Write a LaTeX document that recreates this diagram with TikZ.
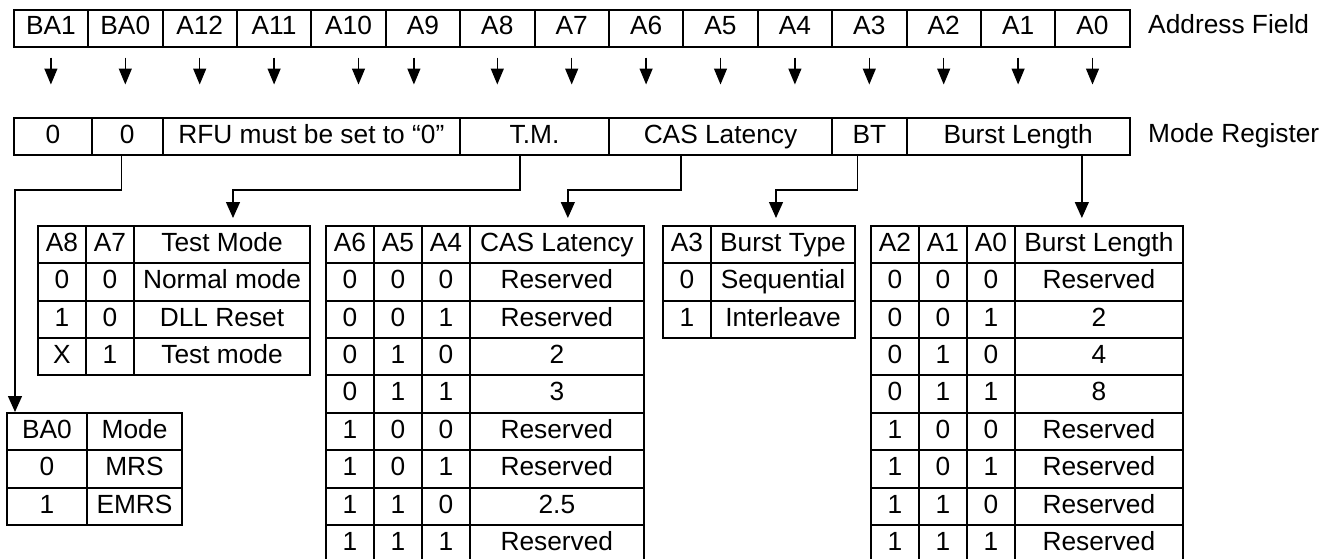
\documentclass[tikz,border=0pt]{standalone}
\usepackage{fontspec}
\setmainfont{Liberation Sans}
\usetikzlibrary{arrows.meta,calc}
\begin{document}
\begin{tikzpicture}[x=1pt,y=-1pt,
  txt/.style={font=\fontsize{26.3}{30}\selectfont, text height=19pt, text depth=5.5pt},
  cell/.style={txt, draw, line width=2pt, rectangle, inner sep=0pt, anchor=north west, minimum height=37.37pt},
  lbl/.style={txt, inner sep=0pt, anchor=west},
  conn/.style={line width=1.3pt, -{Triangle[width=14pt,length=16pt]}},
  tick/.style={line width=1.3pt, -{Triangle[width=13pt,length=16pt]}}]
\useasboundingbox (0,0) rectangle (1324,558);
\clip (0,0) rectangle (1324,558);

% Address field
\foreach \lab [count=\i from 0] in {BA1,BA0,A12,A11,A10,A9,A8,A7,A6,A5,A4,A3,A2,A1,A0}{
  \node[cell, minimum width=74.4pt, minimum height=37pt] (ad\i) at ({12.7+\i*74.4},8.5) {\lab};
}
\foreach \i/\dx in {0/0,1/0,2/0,3/0,4/10,5/-9,6/0,7/0,8/0,9/0,10/0,11/0,12/0,13/0,14/0}{
  \draw[tick] ([xshift=\dx pt, yshift=-10pt]ad\i.south) -- ++(0,27);
}
\node[lbl] (af) at (1148,27) {Address Field};

% Mode register
\node[cell, minimum width=78.3pt, minimum height=37pt] (m1) at (12.7,117) {0};
\node[cell, minimum width=70.5pt, minimum height=37pt] (m2) at (91,117) {0};
\node[cell, minimum width=297.6pt, minimum height=37pt] (mRFU) at (161.5,117) {RFU must be set to “0”};
\node[cell, minimum width=148.8pt, minimum height=37pt] (mTM) at (459.1,117) {T.M.};
\node[cell, minimum width=223.2pt, minimum height=37pt] (mCAS) at (607.9,117) {CAS Latency};
\node[cell, minimum width=74.4pt, minimum height=37pt] (mBT) at (831.1,117) {BT};
\node[cell, minimum width=223.2pt, minimum height=37pt] (mBL) at (905.5,117) {Burst Length};
\node[lbl] (mr) at (1148,135.5) {Mode Register};

% Test mode table
\foreach \ta/\tb/\tc [count=\r from 0] in {A8/A7/Test Mode, 0/0/Normal mode, 1/0/DLL Reset, X/1/Test mode}{
  \node[cell, minimum width=48.3pt] (tm-\r-1) at (36.7,{225+\r*37.37}) {\ta};
  \node[cell, minimum width=48pt] (tm-\r-2) at (85,{225+\r*37.37}) {\tb};
  \node[cell, minimum width=176pt] (tm-\r-3) at (133,{225+\r*37.37}) {\tc};
}

% BA0 table
\foreach \ta/\tb [count=\r from 0] in {BA0/Mode, 0/MRS, 1/EMRS}{
  \node[cell, minimum width=80pt] (ba-\r-1) at (6,{412+\r*37.37}) {\ta};
  \node[cell, minimum width=95pt] (ba-\r-2) at (86,{412+\r*37.37}) {\tb};
}

% CAS latency table
\foreach \ta/\tb/\tc/\td [count=\r from 0] in {A6/A5/A4/CAS Latency, 0/0/0/Reserved, 0/0/1/Reserved, 0/1/0/2, 0/1/1/3, 1/0/0/Reserved, 1/0/1/Reserved, 1/1/0/2.5, 1/1/1/Reserved}{
  \node[cell, minimum width=48pt] (cl-\r-1) at (325,{225+\r*37.37}) {\ta};
  \node[cell, minimum width=47.7pt] (cl-\r-2) at (373,{225+\r*37.37}) {\tb};
  \node[cell, minimum width=48.3pt] (cl-\r-3) at (420.7,{225+\r*37.37}) {\tc};
  \node[cell, minimum width=173.7pt] (cl-\r-4) at (469,{225+\r*37.37}) {\td};
}

% Burst type table
\foreach \ta/\tb [count=\r from 0] in {A3/Burst Type, 0/Sequential, 1/Interleave}{
  \node[cell, minimum width=48.3pt] (bt-\r-1) at (661.7,{225+\r*37.37}) {\ta};
  \node[cell, minimum width=144pt] (bt-\r-2) at (710,{225+\r*37.37}) {\tb};
}

% Burst length table
\foreach \ta/\tb/\tc/\td [count=\r from 0] in {A2/A1/A0/Burst Length, 0/0/0/Reserved, 0/0/1/2, 0/1/0/4, 0/1/1/8, 1/0/0/Reserved, 1/0/1/Reserved, 1/1/0/Reserved, 1/1/1/Reserved}{
  \node[cell, minimum width=47.7pt] (bl-\r-1) at (870,{225+\r*37.37}) {\ta};
  \node[cell, minimum width=48.3pt] (bl-\r-2) at (917.7,{225+\r*37.37}) {\tb};
  \node[cell, minimum width=48pt] (bl-\r-3) at (966,{225+\r*37.37}) {\tc};
  \node[cell, minimum width=167.7pt] (bl-\r-4) at (1014,{225+\r*37.37}) {\td};
}

% Connectors
\draw[conn] ([xshift=-5.5pt]m2.south) -- ++(0,34) -| ([xshift=-32pt]ba-0-1.north);
\draw[conn] ([xshift=-14.5pt]mTM.south) -- ++(0,34) -| ([xshift=11pt,yshift=7pt]tm-0-3.north);
\draw[conn] ([xshift=-39.5pt]mCAS.south) -- ++(0,34) -| ([xshift=11pt,yshift=7pt]cl-0-4.north);
\draw[conn] ([xshift=-12pt]mBT.south) -- ++(0,34) -| ([xshift=-7pt,yshift=7pt]bt-0-2.north);
\coordinate (blin) at ([xshift=-17pt,yshift=7pt]bl-0-4.north);
\draw[conn] (mBL.south -| blin) -- (blin);
\end{tikzpicture}
\end{document}
